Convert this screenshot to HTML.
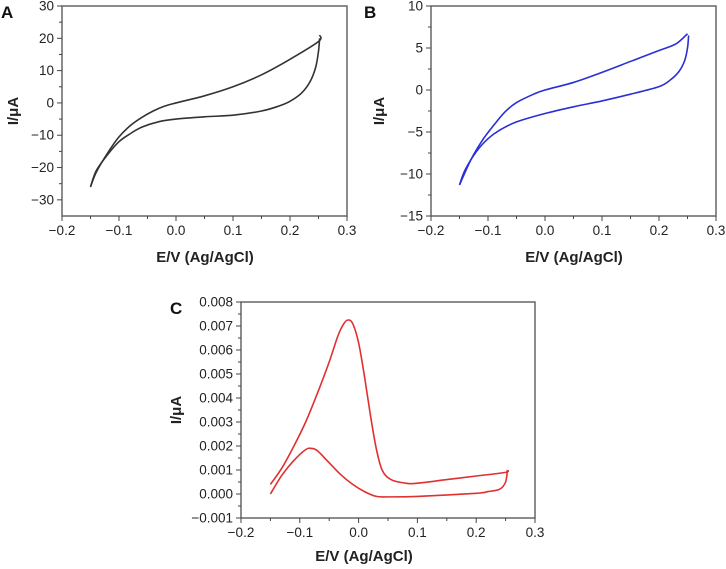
<!DOCTYPE html>
<html><head><meta charset="utf-8"><style>
body{margin:0;background:#fff;}
svg{display:block;font-family:"Liberation Sans",Arial,sans-serif;}
</style></head><body>
<svg id="fig" width="726" height="569" viewBox="0 0 726 569"></svg>
<script>
// Panel A data
const aTopE=[-0.15,-0.14,-0.12,-0.1,-0.08,-0.06,-0.04,-0.02,0,0.05,0.1,0.15,0.2,0.25,0.252];
const aTopI=[-26,-21.5,-15.5,-10.5,-7,-4.5,-2.5,-1,0,2.2,5,8.7,13.5,19,21];
const aBotE=[0.252,0.25,0.245,0.235,0.22,0.2,0.18,0.15,0.1,0.05,0,-0.03,-0.06,-0.08,-0.1,-0.12,-0.14,-0.15];
const aBotI=[20,16,11,6.5,3,0.5,-1,-2.5,-3.8,-4.3,-5,-5.8,-7.5,-9.5,-12,-16,-21,-26];
// Panel B data
const bTopE=[-0.15,-0.13,-0.11,-0.09,-0.07,-0.05,-0.02,0,0.05,0.1,0.15,0.2,0.23,0.25];
const bTopI=[-11.3,-8.3,-6,-4.2,-2.6,-1.5,-0.5,0,0.9,2.1,3.4,4.7,5.5,6.7];
const bBotE=[0.252,0.25,0.245,0.235,0.22,0.2,0.15,0.1,0.05,0,-0.05,-0.08,-0.1,-0.12,-0.14,-0.15];
const bBotI=[6.5,5,3.5,2.2,1.2,0.4,-0.5,-1.3,-2,-2.8,-3.8,-4.8,-5.8,-7.3,-9.5,-11.3];
// Panel C data
const cTopE=[-0.15,-0.13,-0.11,-0.09,-0.07,-0.05,-0.035,-0.025,-0.018,-0.01,0,0.01,0.02,0.03,0.04,0.055,0.08,0.1,0.15,0.2,0.25,0.253];
const cTopI=[0.0004,0.0011,0.002,0.003,0.0042,0.0055,0.0066,0.0071,0.00725,0.0071,0.0063,0.0049,0.0033,0.0019,0.001,0.0006,0.00045,0.00045,0.0006,0.00075,0.0009,0.001];
const cBotE=[0.253,0.25,0.24,0.22,0.2,0.1,0.05,0.03,0.01,-0.01,-0.03,-0.05,-0.07,-0.08,-0.09,-0.11,-0.13,-0.15];
const cBotI=[0.001,0.0005,0.0002,0.0001,0.00003,-0.0001,-0.00012,-0.0001,0.0001,0.0004,0.0008,0.0013,0.0018,0.0019,0.00185,0.0014,0.0008,0.0];

const xTicks=[-0.2,-0.1,0.0,0.1,0.2,0.3];
const xTickLabels=["\u22120.2","\u22120.1","0.0","0.1","0.2","0.3"];
const aYTicks=[-30,-20,-10,0,10,20,30];
const bYTicks=[-15,-10,-5,0,5,10];
const cYTicks=[-0.001,0,0.001,0.002,0.003,0.004,0.005,0.006,0.007,0.008];

const NS="http://www.w3.org/2000/svg";
const svg=document.getElementById('fig');
function el(t,a,p){const e=document.createElementNS(NS,t);for(const k in a)e.setAttribute(k,a[k]);(p||svg).appendChild(e);return e;}
function fmt(v,dec){let s=v.toFixed(dec);if(v<0)s="\u2212"+s.slice(1);return s;}
function smooth(pts){let d="M"+pts[0][0]+","+pts[0][1];for(let i=0;i<pts.length-1;i++){const p0=pts[i-1]||pts[i],p1=pts[i],p2=pts[i+1],p3=pts[i+2]||p2;
const c1=[p1[0]+(p2[0]-p0[0])/6,p1[1]+(p2[1]-p0[1])/6],c2=[p2[0]-(p3[0]-p1[0])/6,p2[1]-(p3[1]-p1[1])/6];
d+=" C"+c1[0]+","+c1[1]+" "+c2[0]+","+c2[1]+" "+p2[0]+","+p2[1];}return d;}

function panel(o){
  const g=el('g',{});
  
  
  const X=v=>o.L+(v-(-0.2))/0.5*(o.R-o.L);
  const Y=v=>o.B-(v-o.ymin)/(o.ymax-o.ymin)*(o.B-o.T);
  const box=el('rect',{x:o.L,y:o.T,width:o.R-o.L,height:o.B-o.T,fill:'none',stroke:'#666','stroke-width':1.5},g);
  
  xTicks.forEach((v,i)=>{el('line',{x1:X(v),x2:X(v),y1:o.B,y2:o.B+5,stroke:'#444'},g);
    if(i<xTicks.length-1)el('line',{x1:X(v+0.05),x2:X(v+0.05),y1:o.B,y2:o.B+3,stroke:'#444'},g);
    const t=el('text',{x:X(v),y:o.B+19,'font-size':13.5,'text-anchor':'middle',fill:'#222'},g);t.textContent=xTickLabels[i];
    });
  o.yt.forEach((v,i)=>{el('line',{x1:o.L-5,x2:o.L,y1:Y(v),y2:Y(v),stroke:'#444'},g);
    if(i<o.yt.length-1){const st=(o.yt[1]-o.yt[0])/o.minor;for(let k=1;k<o.minor;k++)el('line',{x1:o.L-3,x2:o.L,y1:Y(v+st*k),y2:Y(v+st*k),stroke:'#444'},g);}
    const t=el('text',{x:o.L-8,y:Y(v)+4.5,'font-size':13.5,'text-anchor':'end',fill:'#222'},g);t.textContent=fmt(v,o.dec);
    });
  const xt=el('text',{x:o.xtx,y:o.xty,'font-size':15,'font-weight':'bold','text-anchor':'middle',fill:'#222'},g);xt.textContent="E/V (Ag/AgCl)";
  
  const yt=el('text',{x:0,y:0,'font-size':15,'font-weight':'bold','text-anchor':'middle',fill:'#222',transform:`translate(${o.ytx},${o.yty}) rotate(-90)`},g);yt.textContent="I/\u03bcA";
  
  const pl=el('text',{x:o.plx,y:o.ply,'font-size':17,'font-weight':'bold',fill:'#111'},g);pl.textContent=o.id.toUpperCase();
  
  [[o.tE,o.tI,'forward-scan'],[o.bE,o.bI,'reverse-scan']].forEach(s=>{
    const pts=s[0].map((e,i)=>[X(e),Y(s[1][i])]);
    const p=el('path',{d:smooth(pts),fill:'none',stroke:o.col,'stroke-width':1.6},g);
    });
}
panel({id:'a',L:62,R:347,T:6,B:216,ymin:-35,ymax:30,yt:aYTicks,minor:2,dec:0,tE:aTopE,tI:aTopI,bE:aBotE,bI:aBotI,col:'#333',xtx:205,xty:262,ytx:18,yty:111,plx:1,ply:18});
panel({id:'b',L:431,R:716,T:6,B:216,ymin:-15,ymax:10,yt:bYTicks,minor:2,dec:0,tE:bTopE,tI:bTopI,bE:bBotE,bI:bBotI,col:'#2a2fd6',xtx:574,xty:262,ytx:384,yty:111,plx:364,ply:18});
panel({id:'c',L:241,R:535,T:302,B:518,ymin:-0.001,ymax:0.008,yt:cYTicks,minor:2,dec:3,tE:cTopE,tI:cTopI,bE:cBotE,bI:cBotI,col:'#e03030',xtx:364,xty:561,ytx:181,yty:410,plx:170,ply:314});
</script>
</body></html>
